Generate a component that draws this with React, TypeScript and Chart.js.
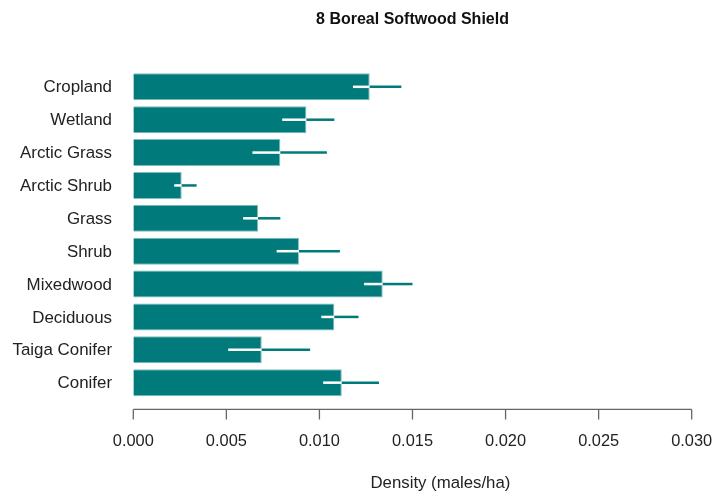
import React, { useEffect, useRef } from "react";
import { Chart, registerables } from "chart.js";

Chart.register(...registerables);

const categories = [
  "Cropland",
  "Wetland",
  "Arctic Grass",
  "Arctic Shrub",
  "Grass",
  "Shrub",
  "Mixedwood",
  "Deciduous",
  "Taiga Conifer",
  "Conifer",
];
const density = [0.0127, 0.0093, 0.0079, 0.0026, 0.0067, 0.0089, 0.0134, 0.0108, 0.0069, 0.0112];
const lower = [0.0118, 0.008, 0.0064, 0.0022, 0.0059, 0.0077, 0.0124, 0.0101, 0.0051, 0.0102];
const upper = [0.0144, 0.0108, 0.0104, 0.0034, 0.0079, 0.0111, 0.015, 0.0121, 0.0095, 0.0132];
const xTicks = [0, 0.005, 0.01, 0.015, 0.02, 0.025, 0.03];
const chartTitle = "8 Boreal Softwood Shield";
const xTitle = "Density (males/ha)";

const TEAL = "#007a7a";
const FONT = "'Liberation Sans', Arial, sans-serif";

const extrasPlugin = {
  id: "extras",
  afterDatasetsDraw(chart: any) {
    const { ctx, scales, chartArea } = chart;
    const xs = scales.x;
    const ys = scales.y;
    ctx.save();
    ctx.lineWidth = 2.5;
    ctx.lineCap = "butt";
    for (let i = 0; i < categories.length; i++) {
      const y = ys.getPixelForValue(i);
      const xl = xs.getPixelForValue(lower[i]);
      const xv = xs.getPixelForValue(density[i]);
      const xh = xs.getPixelForValue(upper[i]);
      ctx.strokeStyle = "#ffffff";
      ctx.beginPath();
      ctx.moveTo(xl, y);
      ctx.lineTo(xv, y);
      ctx.stroke();
      ctx.strokeStyle = TEAL;
      ctx.beginPath();
      ctx.moveTo(xv, y);
      ctx.lineTo(xh, y);
      ctx.stroke();
    }
    // axis line and ticks (R style, offset below plot)
    const axisY = chartArea.bottom + 10.3;
    ctx.strokeStyle = "#666666";
    ctx.lineWidth = 1.3;
    const x0 = xs.getPixelForValue(xTicks[0]);
    const x1 = xs.getPixelForValue(xTicks[xTicks.length - 1]);
    ctx.beginPath();
    ctx.moveTo(x0, axisY);
    ctx.lineTo(x1, axisY);
    for (const t of xTicks) {
      const px = xs.getPixelForValue(t);
      ctx.moveTo(px, axisY);
      ctx.lineTo(px, axisY + 10);
    }
    ctx.stroke();
    // chart title
    ctx.fillStyle = "#111111";
    ctx.font = `bold 16px ${FONT}`;
    ctx.textAlign = "center";
    ctx.textBaseline = "middle";
    ctx.fillText(chartTitle, (chartArea.left + chartArea.right) / 2, 20);
    // x axis title (offset right as in the reference)
    ctx.fillStyle = "#222222";
    ctx.font = `16.8px ${FONT}`;
    ctx.fillText(xTitle, xs.getPixelForValue(0.0165), 483);
    ctx.restore();
  },
};

export default function App() {
  const ref = useRef<HTMLCanvasElement | null>(null);
  useEffect(() => {
    document.body.style.margin = "0";
    if (!ref.current) return;
    const chart = new Chart(ref.current, {
      type: "bar",
      data: {
        labels: categories,
        datasets: [
          {
            data: density,
            backgroundColor: TEAL,
            borderColor: "#7fbcbc",
            borderWidth: 1,
            barPercentage: 0.82,
            categoryPercentage: 1,
          },
        ],
      },
      options: {
        indexAxis: "y",
        animation: false,
        responsive: false,
        devicePixelRatio: 1,
        layout: { padding: { top: 70.4, right: 22.3, bottom: 0, left: 0 } },
        plugins: {
          legend: { display: false },
          title: { display: false },
          tooltip: { enabled: false },
        },
        scales: {
          x: {
            type: "linear",
            min: 0,
            max: 0.03,
            grid: { display: false, drawTicks: true, tickLength: 32 },
            border: { display: false },
            afterBuildTicks(scale: any) {
              scale.ticks = xTicks.map((v) => ({ value: v }));
            },
            afterFit(scale: any) {
              scale.height = 94.9;
            },
            ticks: {
              padding: 1,
              color: "#222222",
              font: { family: FONT, size: 16.4 },
              maxRotation: 0,
              callback: (v: any) => Number(v).toFixed(3),
            },
            title: { display: false },
          },
          y: {
            type: "category",
            grid: { display: false, drawTicks: false },
            border: { display: false },
            afterFit(scale: any) {
              scale.width = 133.3;
            },
            ticks: {
              padding: 21.3,
              labelOffset: 1,
              color: "#222222",
              font: { family: FONT, size: 16.9 },
            },
          },
        },
      },
      plugins: [extrasPlugin],
    });
    return () => chart.destroy();
  }, []);
  return (
    <div style={{ width: 714, height: 494, position: "relative" }}>
      <canvas ref={ref} width={714} height={494} style={{ width: 714, height: 494, display: "block" }} />
    </div>
  );
}
